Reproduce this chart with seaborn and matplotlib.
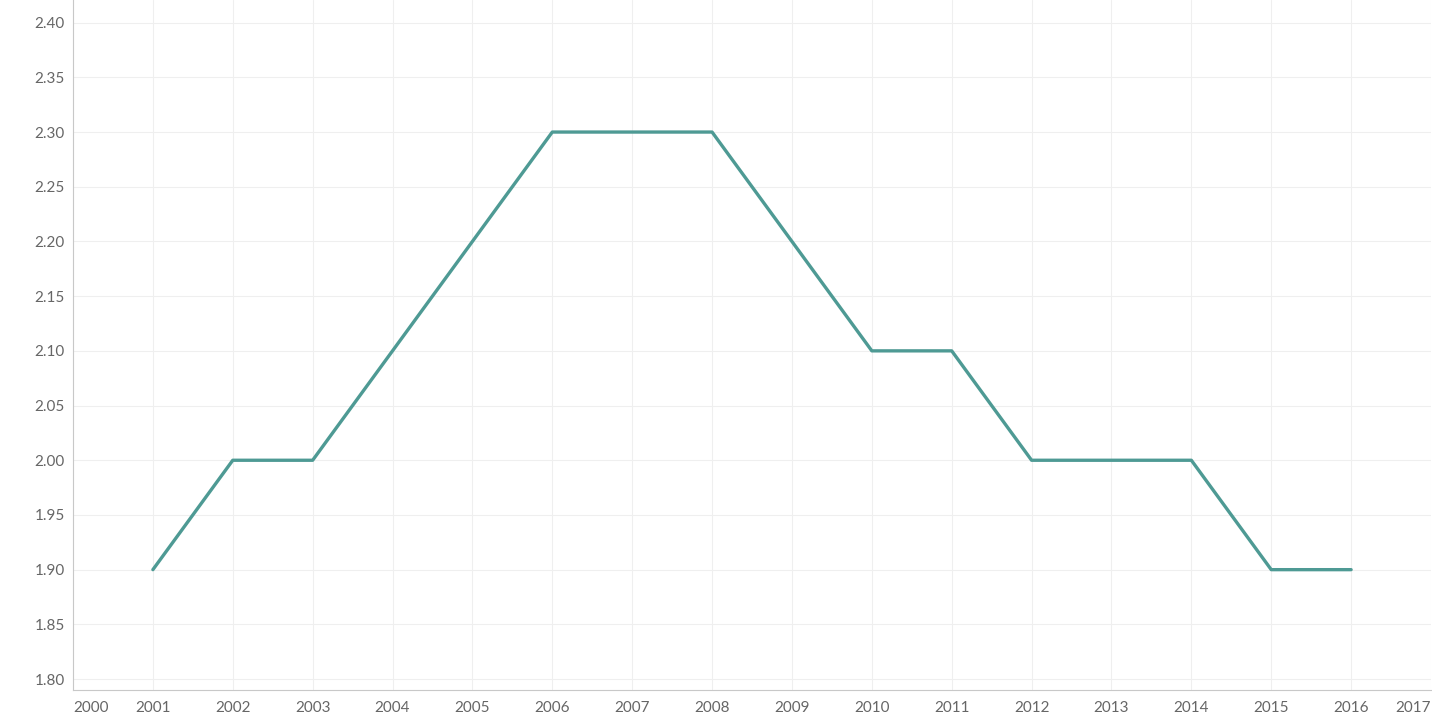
import matplotlib
matplotlib.use("Agg")
import matplotlib.pyplot as plt
import seaborn as sns
import pandas as pd

years = list(range(2001, 2017))
values = [1.90, 2.00, 2.00, 2.10, 2.20, 2.30, 2.30, 2.30, 2.20, 2.10, 2.10, 2.00, 2.00, 2.00, 1.90, 1.90]
df = pd.DataFrame({"year": years, "pct": values})

sns.set_style("white")
plt.rcParams['font.family'] = ['Lato', 'DejaVu Sans']
fig = plt.figure(figsize=(14.32, 7.21), dpi=100)
ax = fig.add_axes([73/1432, 31/721, (1431-73)/1432, 690/721])
sns.lineplot(data=df, x="year", y="pct", color="#4e9a94", linewidth=2.4, ax=ax)
ax.set_xlim(2000, 2017)
ax.set_ylim(1.790, 2.4207)
ax.set_xticks(range(2000, 2018))
ax.set_yticks([1.80 + 0.05*i for i in range(13)])
ax.set_yticklabels([f"{1.80 + 0.05*i:.2f}" for i in range(13)])
ax.grid(True, color="#efefef", linewidth=0.8)
ax.set_axisbelow(True)
for s in ["top", "right"]:
    ax.spines[s].set_visible(False)
for s in ["left", "bottom"]:
    ax.spines[s].set_color("#c8c8c8")
ax.tick_params(axis="both", colors="#666666", labelsize=11, length=0, pad=6)
ax.tick_params(axis="x", length=5, color="#c8c8c8", pad=3)
labs = ax.get_xticklabels()
labs[0].set_ha("left"); labs[-1].set_ha("right")
ax.set_xlabel("")
ax.set_ylabel("%", color="#333333", fontsize=11, labelpad=24)
fig.savefig("out.png", dpi=100)
